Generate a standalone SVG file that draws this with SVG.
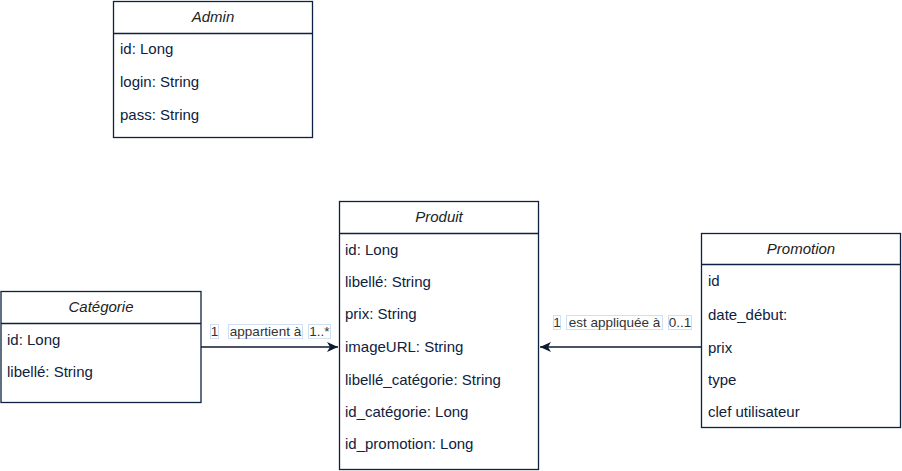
<svg xmlns="http://www.w3.org/2000/svg" width="902" height="471" viewBox="0 0 902 471">
<style>
.box{fill:#ffffff;stroke:#0d2240;stroke-width:1.3}
.hdr{stroke:#0d2240;stroke-width:1.3}
.title{font-family:"Liberation Sans",Arial,sans-serif;font-size:15px;font-style:italic;fill:#222;text-anchor:middle}
.attr{font-family:"Liberation Sans",Arial,sans-serif;font-size:15px;fill:#0d2240}
.lbl{font-family:"Liberation Sans",Arial,sans-serif;font-size:13.5px;fill:#333}
.lblbox{fill:#fff;stroke:#cfe0f5;stroke-width:1}
.edge{stroke:#0d1a30;stroke-width:1.3;fill:none}
</style>
<defs>
<marker id="arr" markerWidth="12" markerHeight="10" refX="11" refY="5" orient="auto" markerUnits="userSpaceOnUse">
<path d="M0,0 L11,5 L0,10 L3,5 Z" fill="#0d1a30"/>
</marker>
</defs>
<g id="connectors">
<line class="edge" x1="201" y1="347" x2="338" y2="347" marker-end="url(#arr)"/>
<line class="edge" x1="701" y1="347" x2="540" y2="347" marker-end="url(#arr)"/>
<rect class="lblbox" x="210.5" y="324.5" width="8" height="14"/>
<text class="lbl" x="214.5" y="336" text-anchor="middle">1</text>
<rect class="lblbox" x="228.5" y="324.5" width="74" height="14"/>
<text class="lbl" x="265.5" y="336" text-anchor="middle">appartient à</text>
<rect class="lblbox" x="308.5" y="324.5" width="22" height="14"/>
<text class="lbl" x="319.5" y="336" text-anchor="middle">1..*</text>
<rect class="lblbox" x="553.5" y="315.5" width="7" height="14"/>
<text class="lbl" x="557" y="327" text-anchor="middle">1</text>
<rect class="lblbox" x="566.5" y="315.5" width="96" height="14"/>
<text class="lbl" x="614.5" y="327" text-anchor="middle">est appliquée à</text>
<rect class="lblbox" x="668.5" y="315.5" width="23" height="14"/>
<text class="lbl" x="680" y="327" text-anchor="middle">0..1</text>
</g>
<g id="admin">
<rect class="box" x="113.5" y="1.5" width="199" height="136"/>
<line class="hdr" x1="113.5" y1="33.5" x2="312.5" y2="33.5"/>
<text class="title" x="213" y="22">Admin</text>
<text class="attr" x="120" y="54">id: Long</text>
<text class="attr" x="120" y="87">login: String</text>
<text class="attr" x="120" y="120">pass: String</text>
</g>
<g id="categorie">
<rect class="box" x="1" y="291.5" width="200" height="111"/>
<line class="hdr" x1="1" y1="323.5" x2="201" y2="323.5"/>
<text class="title" x="101" y="312">Catégorie</text>
<text class="attr" x="7" y="345">id: Long</text>
<text class="attr" x="7" y="377">libellé: String</text>
</g>
<g id="produit">
<rect class="box" x="339.5" y="201.5" width="199" height="268"/>
<line class="hdr" x1="339.5" y1="233.5" x2="538.5" y2="233.5"/>
<text class="title" x="439" y="222">Produit</text>
<text class="attr" x="345" y="255">id: Long</text>
<text class="attr" x="345" y="287">libellé: String</text>
<text class="attr" x="345" y="319">prix: String</text>
<text class="attr" x="345" y="352">imageURL: String</text>
<text class="attr" x="345" y="385">libellé_catégorie: String</text>
<text class="attr" x="345" y="417">id_catégorie: Long</text>
<text class="attr" x="345" y="449">id_promotion: Long</text>
</g>
<g id="promotion">
<rect class="box" x="701.5" y="233.5" width="199" height="194"/>
<line class="hdr" x1="701.5" y1="264.5" x2="900.5" y2="264.5"/>
<text class="title" x="801" y="254">Promotion</text>
<text class="attr" x="708" y="286">id</text>
<text class="attr" x="708" y="320">date_début:</text>
<text class="attr" x="708" y="353">prix</text>
<text class="attr" x="708" y="385">type</text>
<text class="attr" x="708" y="417">clef utilisateur</text>
</g>
</svg>
